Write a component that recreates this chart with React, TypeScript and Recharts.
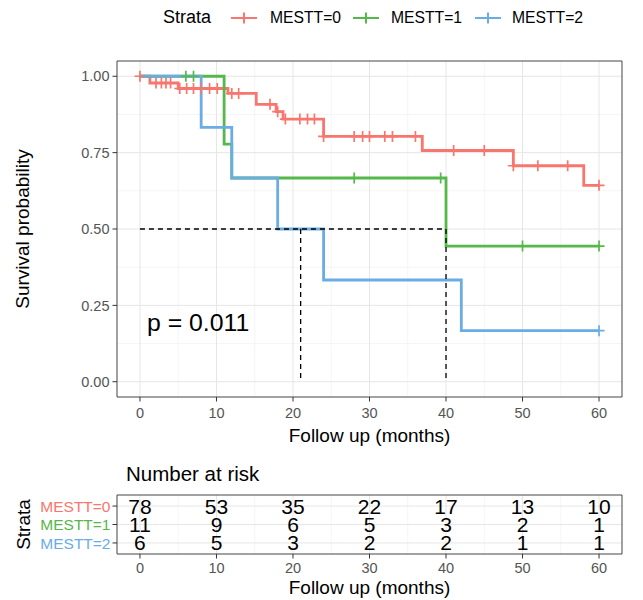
import React from 'react';
import {
  ComposedChart,
  Line,
  Scatter,
  XAxis,
  YAxis,
  CartesianGrid,
  ReferenceLine,
  ReferenceArea,
} from 'recharts';

const FONT = '"Liberation Sans", Arial, Helvetica, sans-serif';

// ---------- data ----------
const strataNames = ['MESTT=0', 'MESTT=1', 'MESTT=2'];
const strataColors = ['#F8766D', '#55B84A', '#6AACE4'];

const timeTicks = [0, 10, 20, 30, 40, 50, 60];
const timeMinor = [5, 15, 25, 35, 45, 55];
const survTicks = [0, 0.25, 0.5, 0.75, 1];
const survMinor = [0.125, 0.375, 0.625, 0.875];

// Kaplan-Meier step curves (time, survival)
const times0 = [0, 1.3, 5.0, 11.5, 15.2, 17.8, 18.7, 24.0, 36.9, 48.8, 58.0, 60];
const surv0 = [1, 0.978, 0.96, 0.944, 0.908, 0.884, 0.86, 0.803, 0.757, 0.707, 0.643, 0.643];
const times1 = [0, 11, 12, 40, 60];
const surv1 = [1, 0.778, 0.667, 0.444, 0.444];
const times2 = [0, 8, 12, 18, 24, 42, 60];
const surv2 = [1, 0.833, 0.667, 0.5, 0.333, 0.167, 0.167];

// censoring times
const censor0 = [0, 2.1, 2.8, 3.4, 4.0, 5.2, 6.1, 7.0, 8.0, 9.1, 10.1, 12.0, 12.9, 17.0, 18.0, 19.0, 20.9, 21.9, 22.8, 24.0, 28.0, 29.1, 30.0, 32.0, 33.0, 36.0, 41.0, 45.0, 48.8, 52.0, 55.9, 60];
const censor1 = [6, 7, 28, 39.3, 50, 60];
const censor2 = [60];

// median survival
const medianSurv = 0.5;
const medianTimes = [21, 40];

const pValueText = 'p = 0.011';

// number at risk
const risk0 = [78, 53, 35, 22, 17, 13, 10];
const risk1 = [11, 9, 6, 5, 3, 2, 1];
const risk2 = [6, 5, 3, 2, 2, 1, 1];

// ---------- derived tables ----------
const curveTimes = [times0, times1, times2];
const curveSurv = [surv0, surv1, surv2];
const censorTimes = [censor0, censor1, censor2];
const riskRows = [risk0, risk1, risk2];

const curves = curveTimes.map((ts, i) => ts.map((t, j) => ({ t, s: curveSurv[i][j] })));

const survAt = (ts: number[], ss: number[], t: number) => {
  let v = ss[0];
  for (let j = 0; j < ts.length; j++) if (ts[j] <= t) v = ss[j];
  return v;
};

const censorPts = censorTimes.map((cs, i) =>
  cs.map((t) => ({ t, s: survAt(curveTimes[i], curveSurv[i], t) }))
);

const riskPts = riskRows.map((row, i) => row.map((n, j) => ({ t: timeTicks[j], row: i, n })));

// ---------- shapes ----------
const makeCross = (color: string) => (props: any) => {
  const { cx, cy } = props;
  if (cx == null || cy == null) return <g />;
  return (
    <path
      d={`M${cx - 5.5},${cy}H${cx + 5.5}M${cx},${cy - 5.5}V${cy + 5.5}`}
      stroke={color}
      strokeWidth={1.7}
      fill="none"
    />
  );
};

const riskText = (props: any) => {
  const { cx, cy, payload } = props;
  if (cx == null || cy == null) return <g />;
  return (
    <text x={cx} y={cy} dy="0.36em" textAnchor="middle" fontSize={21} fontFamily={FONT} fill="#000">
      {payload?.n}
    </text>
  );
};

const RiskTick = (props: any) => {
  const { x, y, payload } = props;
  const i = payload.value as number;
  return (
    <text x={x} y={y} dy="0.36em" textAnchor="end" fontSize={15.5} fontFamily={FONT} fill={strataColors[i]}>
      {strataNames[i]}
    </text>
  );
};

const textBox = (txt: string, left: number, centerY: number, fs: number, color = '#000') => (
  <div
    style={{
      position: 'absolute',
      left,
      top: centerY - 0.588 * fs,
      fontSize: fs,
      lineHeight: `${fs * 1.2}px`,
      height: fs * 1.2,
      fontFamily: FONT,
      color,
      whiteSpace: 'nowrap',
    }}
  >
    {txt}
  </div>
);

const tickStyle = { fontSize: 14.5, fill: '#555', fontFamily: FONT };

export default function App() {
  return (
    <div style={{ position: 'absolute', left: 0, top: 0, width: 643, height: 600, background: '#fff' }}>
      {/* legend */}
      {textBox('Strata', 163, 18, 18)}
      {strataNames.map((name, i) => (
        <React.Fragment key={name}>
          <svg
            style={{ position: 'absolute', left: 231 + i * 122, top: 12 }}
            width={26}
            height={12}
          >
            <path d="M0,6H26M13,0.5V11.5" stroke={strataColors[i]} strokeWidth={2} fill="none" />
          </svg>
          {textBox(name, 270 + i * 121, 18, 15.7)}
        </React.Fragment>
      ))}

      {/* main survival plot */}
      <div style={{ position: 'absolute', left: 0, top: 0 }}>
        <ComposedChart width={643} height={450} margin={{ top: 61, right: 21, bottom: 0, left: 0 }}>
          <CartesianGrid
            stroke="#F2F2F2"
            strokeWidth={0.8}
            verticalValues={timeMinor}
            horizontalValues={survMinor}
          />
          <CartesianGrid stroke="#E6E6E6" strokeWidth={1} verticalValues={timeTicks} horizontalValues={survTicks} />
          <XAxis
            type="number"
            dataKey="t"
            domain={[-3, 63]}
            allowDataOverflow
            ticks={timeTicks}
            interval={0}
            height={53}
            tickSize={4.5}
            tickMargin={6}
            axisLine={false}
            tickLine={{ stroke: '#333' }}
            tick={tickStyle}
            label={{
              value: 'Follow up (months)',
              position: 'insideBottom',
              offset: 8,
              style: { fontSize: 19, fill: '#000', fontFamily: FONT },
            }}
          />
          <YAxis
            type="number"
            dataKey="s"
            domain={[-0.05, 1.05]}
            allowDataOverflow
            ticks={survTicks}
            interval={0}
            width={117}
            tickSize={4.5}
            tickMargin={3}
            axisLine={false}
            tickLine={{ stroke: '#333' }}
            tick={tickStyle}
            tickFormatter={(v: number) => v.toFixed(2)}
            label={{
              value: 'Survival probability',
              angle: -90,
              position: 'insideLeft',
              offset: 22,
              style: { textAnchor: 'middle', fontSize: 19, fill: '#000', fontFamily: FONT },
            }}
          />
          <ReferenceArea x1={-3} x2={63} y1={-0.05} y2={1.05} fill="none" stroke="#444" strokeWidth={1} />
          {curves.map((c, i) => (
            <Line
              key={`line${i}`}
              data={c}
              dataKey="s"
              type="stepAfter"
              stroke={strataColors[i]}
              strokeWidth={2.8}
              dot={false}
              activeDot={false}
              isAnimationActive={false}
            />
          ))}
          {censorPts.map((c, i) => (
            <Scatter
              key={`cens${i}`}
              data={c}
              dataKey="s"
              shape={makeCross(strataColors[i])}
              isAnimationActive={false}
            />
          ))}
          <ReferenceLine
            segment={[
              { x: 0, y: medianSurv },
              { x: Math.max(...medianTimes), y: medianSurv },
            ]}
            stroke="#000"
            strokeWidth={1.3}
            strokeDasharray="5 4"
          />
          {medianTimes.map((t) => (
            <ReferenceLine
              key={`med${t}`}
              segment={[
                { x: t, y: medianSurv },
                { x: t, y: 0 },
              ]}
              stroke="#000"
              strokeWidth={1.3}
              strokeDasharray="5 4"
            />
          ))}
        </ComposedChart>
      </div>

      {textBox(pValueText, 147, 323, 24.8)}

      {/* risk table */}
      {textBox('Number at risk', 126, 474, 20.5)}
      <div style={{ position: 'absolute', left: 0, top: 450 }}>
        <ComposedChart width={643} height={150} margin={{ top: 45, right: 21, bottom: 0, left: 0 }}>
          <CartesianGrid stroke="#F2F2F2" strokeWidth={0.8} horizontal={false} verticalValues={timeMinor} />
          <CartesianGrid stroke="#E6E6E6" strokeWidth={1} verticalValues={timeTicks} horizontalValues={[0, 1, 2]} />
          <XAxis
            type="number"
            dataKey="t"
            domain={[-3, 63]}
            allowDataOverflow
            ticks={timeTicks}
            interval={0}
            height={46}
            tickSize={4.5}
            tickMargin={4.5}
            axisLine={false}
            tickLine={{ stroke: '#333' }}
            tick={tickStyle}
            label={{
              value: 'Follow up (months)',
              position: 'insideBottom',
              offset: 6,
              style: { fontSize: 19, fill: '#000', fontFamily: FONT },
            }}
          />
          <YAxis
            type="number"
            dataKey="row"
            domain={[-0.6, 2.6]}
            reversed
            allowDataOverflow
            ticks={[0, 1, 2]}
            interval={0}
            width={117}
            tickSize={4.5}
            tickMargin={2}
            axisLine={false}
            tickLine={{ stroke: '#333' }}
            tick={<RiskTick />}
            label={{
              value: 'Strata',
              angle: -90,
              position: 'insideLeft',
              offset: 23,
              style: { textAnchor: 'middle', fontSize: 19, fill: '#000', fontFamily: FONT },
            }}
          />
          <ReferenceArea x1={-3} x2={63} y1={-0.6} y2={2.6} fill="none" stroke="#444" strokeWidth={1} />
          {riskPts.map((r, i) => (
            <Scatter key={`risk${i}`} data={r} dataKey="row" shape={riskText} isAnimationActive={false} />
          ))}
        </ComposedChart>
      </div>
    </div>
  );
}
